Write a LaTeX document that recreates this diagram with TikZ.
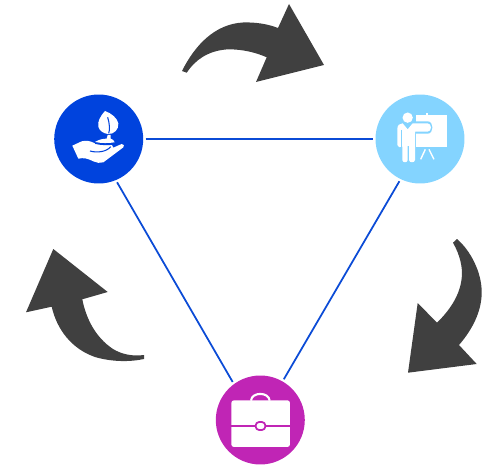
\documentclass[tikz,border=0pt]{standalone}
\definecolor{linkblue}{HTML}{0B4BD6}
\definecolor{plantblue}{HTML}{0043DD}
\definecolor{skyblue}{HTML}{84D4FF}
\definecolor{casepurple}{HTML}{C025B5}
\definecolor{arrowgray}{HTML}{404040}
\tikzset{
  hub/.style={circle, minimum size=1.78cm, inner sep=0pt, outer sep=0.05cm},
  link/.style={draw=linkblue, line width=1pt},
  turn/.style={fill=arrowgray},
  icon/.style={fill=white},
  zoomed/.style={shift={#1}, x=0.00667cm, y=-0.00667cm}
}
\begin{document}
\begin{tikzpicture}[x=0.02cm, y=-0.02cm]
\useasboundingbox (0,0) rectangle (487,466);

\node [hub, fill=plantblue] (plant) at (98.7,139) {};
\node [hub, fill=skyblue] (teach) at (420,139) {};
\node [hub, fill=casepurple] (case) at (260.3,420) {};

\draw [link] (plant) -- (teach);
\draw [link] (plant.-67) -- (case.126);
\draw [link] (teach.-116) -- (case.60);

% top arrow
\fill [turn] (182,71) .. controls (195,45) and (215,24) .. (243,22.5)
  .. controls (255,22) and (268,24) .. (278,28) -- (289,4) -- (324,65)
  -- (256,82) -- (266.7,57.3) .. controls (250,50) and (235,49) .. (226,49.5)
  .. controls (208,51) and (195,60) .. (186.7,72.7) -- cycle;

% right arrow
\fill [turn] (453,242.7) .. controls (460,255) and (463,268) .. (461.7,278)
  .. controls (460,295) and (450,310) .. (437,322.7) -- (417.7,303) -- (408,372.7)
  -- (476.7,364) -- (459,345) .. controls (472,330) and (481.5,312) .. (481.7,293)
  .. controls (482,272) and (470,250) .. (457,239) -- cycle;

% left arrow
\fill [turn] (53.3,249) -- (107.7,292) -- (82.3,299.3)
  .. controls (86,318) and (95,337) .. (113,349)
  .. controls (122,354.5) and (133,356.5) .. (144,355) -- (144,359)
  .. controls (130,362) and (112,362) .. (95,357)
  .. controls (72,349) and (57,330) .. (51.7,306.7) -- (26,312.3) -- cycle;

% plant icon
\begin{scope}[zoomed={(40,80)}]
\fill [icon] (195,93) .. controls (180,110) and (172,125) .. (175,140)
  .. controls (178,152) and (190,160) .. (203,162)
  .. controls (222,164) and (237,148) .. (235,130)
  .. controls (232,115) and (215,100) .. (195,93) -- cycle;
\draw [plantblue, line width=0.6pt] (203,112) .. controls (209,130) and (210,150) .. (206,160);
\fill [icon] (97,197) -- (125,184) .. controls (140,180) and (150,183) .. (165,190)
  .. controls (180,195) and (200,192) .. (216,195) -- (220,203)
  -- (245,192) .. controls (252,192) and (254,198) .. (250,202)
  -- (190,247) .. controls (180,251) and (170,248) .. (160,244)
  .. controls (145,236) and (130,232) .. (115,236) -- cycle;
\fill [icon] (165,186) .. controls (178,178) and (190,176) .. (200,176)
  -- (203,165) -- (212,165) -- (212,176) .. controls (218,176) and (222,182) .. (224,187)
  .. controls (205,190) and (185,190) .. (165,186) -- cycle;
\draw [plantblue, line width=0.6pt] (150,213) .. controls (170,219) and (200,216) .. (212,200);
\draw [plantblue, line width=0.6pt] (165,190) .. controls (185,195) and (205,194) .. (219,193);
\end{scope}

% teacher icon
\begin{scope}[zoomed={(360,80)}]
\fill [icon] (167,105) rectangle (261,200);
\fill [icon] (199,99) rectangle (204,105);
\fill [icon] (143,113) circle [radius=15.5];
\fill [skyblue] (165,124) -- (203,124) .. controls (222,124) and (222,161) .. (203,161) -- (165,161) -- cycle;
\fill [icon] (112,146) .. controls (112,135) and (120,130) .. (128,130)
  -- (143,148) -- (158,130) -- (203,130) .. controls (216,130) and (216,155) .. (203,155)
  -- (165,155) -- (165,240) .. controls (165,249) and (147,249) .. (147,240)
  -- (147,198) -- (143,198) -- (143,240) .. controls (143,249) and (127,249) .. (127,240)
  -- (127,200) .. controls (122,204) and (112,202) .. (112,195) -- cycle;
\draw [skyblue, line width=0.4pt] (125,150) -- (125,200);
\draw [white, line width=0.8pt] (196,208) -- (182,238);
\draw [white, line width=0.8pt] (207,208) -- (222,238);
\end{scope}

% briefcase icon
\begin{scope}[zoomed={(200,360)}]
\fill [icon, rounded corners=1.5pt] (94,121) rectangle (270,261);
\draw [white, line width=1.2pt] (153,122) .. controls (155,95) and (207,95) .. (209,122);
\draw [casepurple, line width=1pt] (94,197) -- (270,197);
\draw [casepurple, fill=white, line width=1pt, rounded corners=2pt] (167,186) rectangle (196,210);
\end{scope}
\end{tikzpicture}
\end{document}
